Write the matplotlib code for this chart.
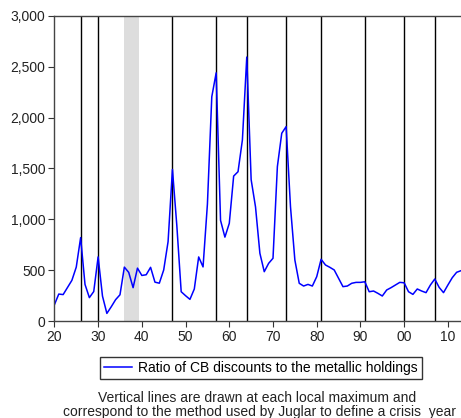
import matplotlib
matplotlib.use("Agg")
import matplotlib.pyplot as plt
from matplotlib.ticker import FuncFormatter, FixedLocator

plt.rcParams['font.family'] = ['Liberation Sans', 'DejaVu Sans']

years = list(range(1820, 1914))
ratio = [160, 265, 260, 330, 400, 530, 820, 360, 230, 290,
         630, 245, 75, 140, 210, 258, 530, 478, 328, 520,
         448, 455, 528, 382, 372, 502, 780, 1490, 940, 288,
         249, 213, 315, 630, 532, 1150, 2205, 2440, 990, 825,
         960, 1425, 1468, 1780, 2595, 1390, 1122, 666, 485, 567,
         617, 1518, 1846, 1911, 1124, 600, 371, 344, 360, 344,
         436, 607, 551, 528, 502, 420, 338, 344, 371, 380,
         380, 386, 288, 295, 272, 246, 305, 328, 354, 380,
         376, 288, 262, 315, 295, 279, 354, 413, 331, 279,
         354, 426, 479, 495]
crisis_years = [1826, 1830, 1847, 1857, 1864, 1873, 1881, 1891, 1900, 1907]
shade_start, shade_end = 1836, 1839.3
legend_label = "Ratio of CB discounts to the metallic holdings"
caption_lines = ["Vertical lines are drawn at each local maximum and",
                 "correspond to the method used by Juglar to define a crisis  year"]

fig = plt.figure(figsize=(4.61, 4.18), dpi=100)
ax = fig.add_axes([0.118, 0.232, 0.882, 0.730])

ax.axvspan(shade_start, shade_end, color='#dddddd', lw=0, zorder=0)
for cy in crisis_years:
    ax.axvline(cy, color='black', lw=1.0, zorder=1)
line, = ax.plot(years, ratio, color='#0000ff', lw=1.1, zorder=2, label=legend_label)

ax.set_xlim(1820, 1913)
ax.set_ylim(0, 3000)
ax.set_yticks(range(0, 3001, 500))
ax.yaxis.set_major_formatter(FuncFormatter(lambda v, p: f"{int(v):,}"))
ax.xaxis.set_major_locator(FixedLocator(list(range(1820, 1911, 10))))
ax.xaxis.set_major_formatter(FuncFormatter(lambda v, p: f"{int(round(v)) % 100:02d}"))
ax.tick_params(axis='both', labelsize=10, direction='out', length=4, width=0.8,
               colors='#333333', labelcolor='#222222', pad=2.5)
ax.spines['right'].set_visible(False)
for s in ['left', 'top', 'bottom']:
    ax.spines[s].set_color('#444444')
    ax.spines[s].set_linewidth(1.0)

leg = fig.legend(handles=[line], loc='center', bbox_to_anchor=(0.566, 0.12),
                 fontsize=10, frameon=True, fancybox=False, edgecolor='black',
                 handlelength=2.0, borderpad=0.3, handletextpad=0.4)
leg.get_frame().set_linewidth(1.0)

fig.text(0.558, 1 - 398 / 418, caption_lines[0], ha='center', va='center',
         fontsize=10, color='#222222')
fig.text(0.563, 1 - 412 / 418, caption_lines[1], ha='center', va='center',
         fontsize=10, color='#222222')

fig.savefig("out.png", dpi=100)
